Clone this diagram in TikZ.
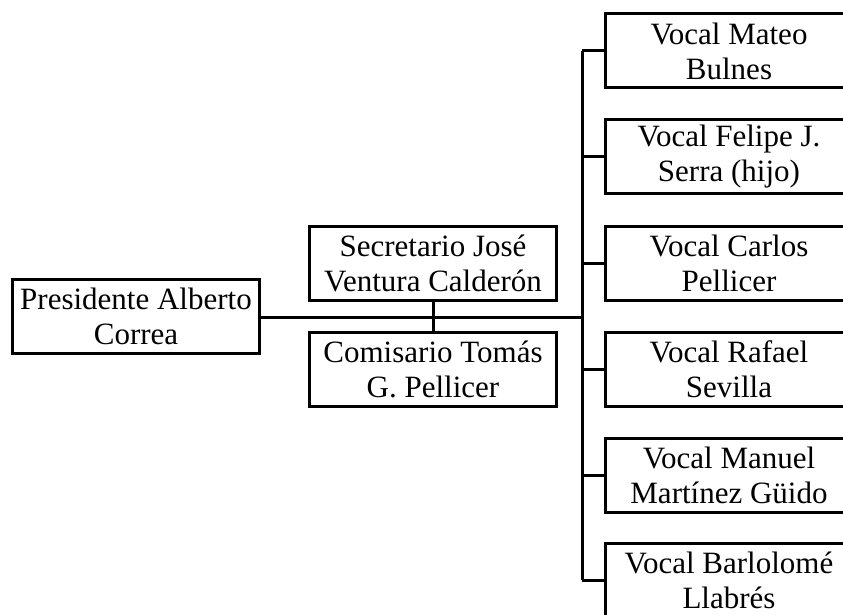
\documentclass[tikz,border=0pt]{standalone}
\usepackage{fontspec}
\setmainfont{Liberation Serif}
\newlength{\du}
\setlength{\du}{1pt}
\tikzset{
  cargo/.style={draw=black, fill=white, line width=3\du, minimum width=247\du,
    minimum height=74\du, inner sep=0pt, align=center,
    font=\fontsize{31}{35}\selectfont},
  enlace/.style={draw=black, line width=3\du}
}

\begin{document}
\begin{tikzpicture}
\pgftransformxscale{1.000000}
\pgftransformyscale{-1.000000}
\useasboundingbox (0\du,0\du) rectangle (843\du,615\du);
\clip (0\du,0\du) rectangle (843\du,615\du);
% presidente, secretario, comisario
\node[cargo] (pres) at (136\du,316\du){Presidente Alberto\\Correa};
\node[cargo] (secr) at (433\du,263.5\du){Secretario José\\Ventura Calderón};
\node[cargo] (comi) at (433\du,369.5\du){Comisario Tomás\\G. Pellicer};
% vocales
\node[cargo] (v1) at (729\du,51\du){Vocal Mateo\\Bulnes};
\node[cargo] (v2) at (729\du,156.5\du){Vocal Felipe J.\\Serra (hijo)};
\node[cargo] (v3) at (729\du,263.5\du){Vocal Carlos\\Pellicer};
\node[cargo] (v4) at (729\du,369.5\du){Vocal Rafael\\Sevilla};
\node[cargo] (v5) at (729\du,475.5\du){Vocal Manuel\\Martínez Güido};
\node[cargo] (v6) at (729\du,580\du){Vocal Barlolomé\\Llabrés};
% tronco
\coordinate (tronco) at (582\du,317\du);
\draw[enlace] (pres.east |- tronco) -- (tronco);
\draw[enlace] (secr.south) -- (comi.north);
\draw[enlace] (v1.west -| tronco) -- (v6.west -| tronco);
\foreach \i in {1,...,6}
  \draw[enlace] (v\i.west -| tronco) -- (v\i.west);
\end{tikzpicture}
\end{document}
